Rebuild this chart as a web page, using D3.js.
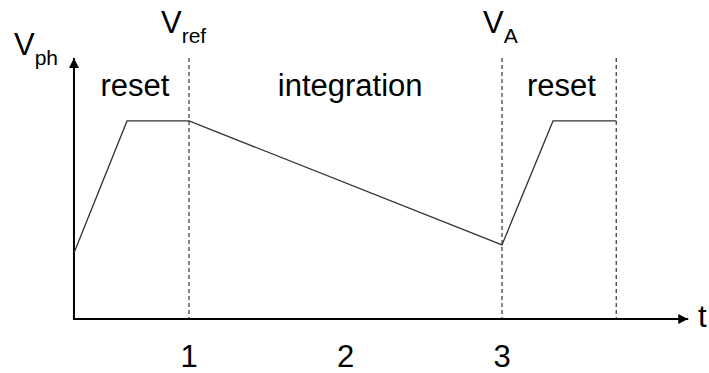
<!DOCTYPE html>
<html>
<head>
<meta charset="utf-8">
<script src="https://cdn.jsdelivr.net/npm/d3@7"></script>
<style>
  html, body { margin: 0; padding: 0; background: #fff; }
  svg { display: block; }
  text { font-family: "Liberation Sans", Arial, sans-serif; fill: #000; }
</style>
</head>
<body>
<script>
// ---- data ----
const waveT = [0.265, 0.604, 1, 3, 3.326, 3.73];
const waveV = [0.253, 0.759, 0.759, 0.284, 0.759, 0.759];
const phaseBoundaries = [1, 3, 3.73];
const tickValues = [1, 2, 3];
const tickLabels = ["1", "2", "3"];
const phaseLabels = ["reset", "integration", "reset"];
const phaseLabelT = [0.655, 2.03, 3.38];
const voltageLabels = [
  { main: "V", sub: "ph", t: 0.265 },
  { main: "V", sub: "ref", t: 1 },
  { main: "V", sub: "A", t: 3 }
];
const axisLabelX = "t";

// ---- layout ----
const W = 709, H = 373;
const x = d3.scaleLinear().domain([1, 3]).range([189, 502]);
const y = d3.scaleLinear().domain([0, 1]).range([319, 58]);
const tMin = 0.265, tMax = 4.19;

const svg = d3.select("body").append("svg").attr("width", W).attr("height", H);

svg.append("defs").append("marker")
  .attr("id", "arrow").attr("viewBox", "0 0 10 10")
  .attr("refX", 10).attr("refY", 5)
  .attr("markerWidth", 10).attr("markerHeight", 10)
  .attr("markerUnits", "userSpaceOnUse")
  .attr("orient", "auto")
  .append("path").attr("d", "M0,0 L10,5 L0,10 Z").attr("fill", "#000");

// dashed phase boundaries
svg.selectAll("line.bound").data(phaseBoundaries).enter().append("line")
  .attr("class", "bound")
  .attr("x1", d => x(d)).attr("x2", d => x(d))
  .attr("y1", y(1)).attr("y2", y(0))
  .attr("stroke", "#333").attr("stroke-width", 1.2)
  .attr("stroke-dasharray", "4,3");

// axes
svg.append("line")
  .attr("x1", x(tMin)).attr("x2", x(tMin))
  .attr("y1", y(0) + 1).attr("y2", y(1))
  .attr("stroke", "#000").attr("stroke-width", 2)
  .attr("marker-end", "url(#arrow)");
svg.append("line")
  .attr("x1", x(tMin) - 1).attr("x2", x(tMax))
  .attr("y1", y(0)).attr("y2", y(0))
  .attr("stroke", "#000").attr("stroke-width", 2)
  .attr("marker-end", "url(#arrow)");

// waveform
const pts = waveT.map((t, i) => [t, waveV[i]]);
svg.append("path")
  .attr("d", d3.line().x(d => x(d[0])).y(d => y(d[1]))(pts))
  .attr("fill", "none").attr("stroke", "#333").attr("stroke-width", 1.3);

// tick labels
svg.selectAll("text.tick").data(tickValues).enter().append("text")
  .attr("class", "tick")
  .attr("x", d => x(d)).attr("y", 367)
  .attr("text-anchor", "middle").attr("font-size", 31)
  .text((d, i) => tickLabels[i]);

// phase labels
svg.selectAll("text.phase").data(phaseLabels).enter().append("text")
  .attr("class", "phase")
  .attr("x", (d, i) => x(phaseLabelT[i])).attr("y", 96)
  .attr("text-anchor", "middle").attr("font-size", 31)
  .text(d => d);

// voltage labels
const vOffsets = [-60, -28, -19];
const vBase = [55, 33, 33];
voltageLabels.forEach((d, i) => {
  const tx = svg.append("text")
    .attr("x", x(d.t) + vOffsets[i]).attr("y", vBase[i])
    .attr("font-size", 31);
  tx.append("tspan").text(d.main);
  tx.append("tspan").attr("font-size", 21).attr("dy", 10).text(d.sub);
});

// t label
svg.append("text")
  .attr("x", 698).attr("y", 327)
  .attr("font-size", 31)
  .text(axisLabelX);
</script>
</body>
</html>
